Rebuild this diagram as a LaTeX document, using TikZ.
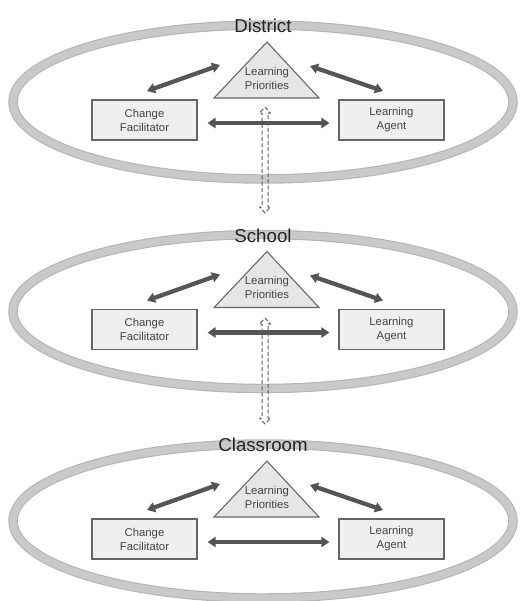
\documentclass[tikz,border=0pt]{standalone}
\usepackage{fontspec}
\setmainfont{Liberation Sans}
\usetikzlibrary{arrows.meta,calc}
\definecolor{ringgray}{HTML}{C9C9C9}
\definecolor{ringedge}{HTML}{B4B4B4}
\definecolor{boxfill}{HTML}{EFEFEF}
\definecolor{trifill}{HTML}{E6E6E6}
\definecolor{boxline}{HTML}{666666}
\definecolor{arrowgray}{HTML}{555555}
\definecolor{txtgray}{HTML}{444444}
\definecolor{titlegray}{HTML}{222222}
\definecolor{dashgray}{HTML}{5E5E5E}
\begin{document}
\begin{tikzpicture}[x=0.75pt,y=-0.75pt,
  ringout/.style={draw=ringedge, line width=7.1pt},
  ringin/.style={draw=ringgray, line width=5.5pt},
  leveltitle/.style={font=\fontsize{14pt}{16pt}\selectfont, text=titlegray, inner sep=0pt},
  role/.style={draw=boxline, line width=0.8pt, fill=boxfill,
    minimum width=78.75pt, minimum height=30pt, inner sep=0pt,
    align=center, text=txtgray, font=\fontsize{8.5pt}{10.5pt}\selectfont},
  tri/.style={draw=boxline, line width=0.8pt, fill=trifill, line join=miter},
  tritext/.style={align=center, text=txtgray, inner sep=0pt,
    font=\fontsize{8.5pt}{10.5pt}\selectfont},
  biarrow/.style={draw=arrowgray, line width=3.2pt,
    {Triangle[length=6pt,width=7.5pt]}-{Triangle[length=6pt,width=7.5pt]}},
  linkarrow/.style={draw=dashgray, line width=0.75pt,
    dash pattern=on 3pt off 1.8pt, line join=round}
]
\useasboundingbox (0,0) rectangle (524,601);

% one ring per level, each with the same three roles
\foreach \lvl/\d [count=\i] in {District/0, School/209.5, Classroom/419} {
  \begin{scope}[shift={(0,\d)}]
    \draw[ringout] (263,102) ellipse [x radius=250, y radius=77];
    \draw[ringin]  (263,102) ellipse [x radius=250, y radius=77];
    \node[leveltitle] (t\i) at (263,26) {\lvl};
    \draw[tri] (267,42) -- (319,98) -- (214,98) -- cycle;
    \node[tritext] (lp\i) at (267,78) {Learning\\Priorities};
    \node[role] (cf\i) at (144.5,120) {Change\\Facilitator};
    \node[role] (la\i) at (391.5,120) {Learning\\Agent};
    \coordinate (cfa\i) at (147,91);
    \coordinate (lpa\i) at (220,65);
    \coordinate (lpb\i) at (310,66);
    \coordinate (lab\i) at (383,91);
    \draw[biarrow] (cfa\i) -- (lpa\i);
    \draw[biarrow] (lpb\i) -- (lab\i);
    \draw[biarrow, shorten <=7.5pt, shorten >=6.75pt]
      ([yshift=-2.25pt]cf\i.east) -- ([yshift=-2.25pt]la\i.west);
  \end{scope}
}

% hollow dashed links between consecutive levels
\foreach \d in {0, 211} {
  \begin{scope}[shift={(0,\d)}]
    \draw[linkarrow] (265,107) -- (270.5,113) -- (268,113) -- (268,207)
      -- (270.5,207) -- (265,213) -- (259.5,207) -- (262,207) -- (262,113)
      -- (259.5,113) -- cycle;
  \end{scope}
}
\end{tikzpicture}
\end{document}
